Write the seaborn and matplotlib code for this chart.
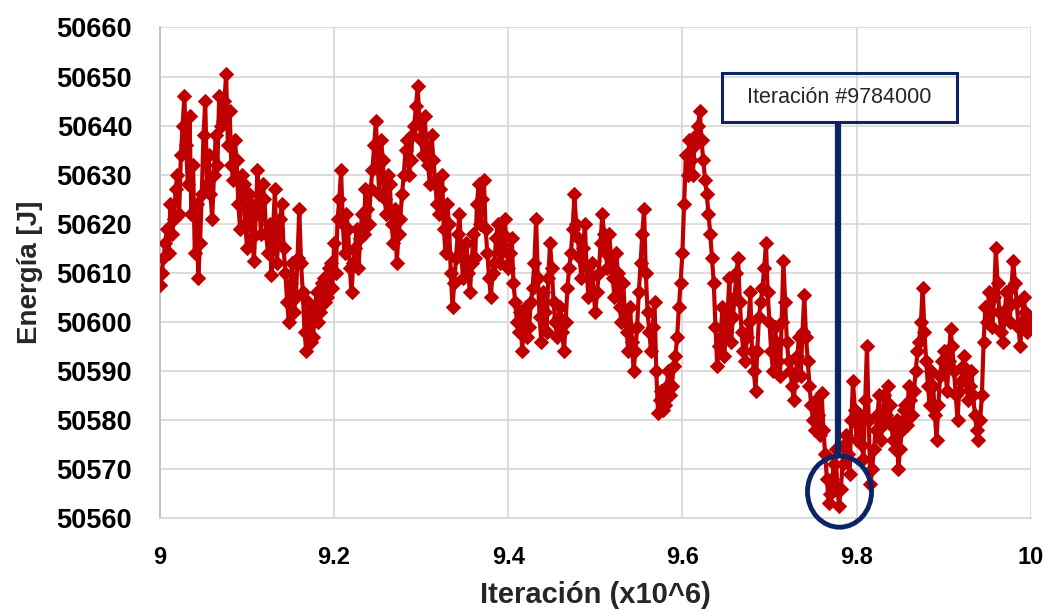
import numpy as np
import pandas as pd
import matplotlib
matplotlib.use("Agg")
import matplotlib.pyplot as plt
from matplotlib.patches import Ellipse, Rectangle
import seaborn as sns

# Energy sampled every 2000 iterations between 9.0e6 and 10.0e6
iteracion = np.arange(9_000_000, 10_000_001, 2000) / 1e6
energia = [
    50607.5, 50610, 50613, 50616, 50619, 50614, 50624, 50618, 50621, 50627,
    50630, 50622, 50634, 50640, 50646, 50636, 50628, 50642, 50622, 50632,
    50614, 50624, 50609, 50616, 50626, 50638, 50645, 50628, 50634, 50626,
    50621, 50630, 50638, 50632, 50646, 50640, 50641, 50645, 50650.5, 50636,
    50643, 50632, 50629, 50637, 50633, 50624, 50619, 50630, 50628, 50620,
    50615, 50626, 50624, 50617, 50612.5, 50622, 50631, 50624, 50618, 50628,
    50625, 50618, 50614, 50620, 50609.5, 50619, 50627, 50612, 50616, 50621,
    50624, 50615, 50610, 50604, 50600, 50608, 50612, 50602, 50605, 50613,
    50623, 50612, 50606, 50598, 50594, 50604, 50601, 50596, 50597, 50603,
    50606, 50600, 50602, 50608, 50609, 50604, 50605, 50611, 50612, 50607,
    50616, 50610, 50621, 50625, 50631, 50620, 50614, 50622, 50619, 50611,
    50606, 50612, 50615, 50619, 50611, 50617, 50622, 50618, 50627, 50623,
    50620, 50627, 50631, 50636, 50641, 50632, 50626, 50637, 50633, 50625,
    50622, 50630, 50628, 50620, 50616, 50623, 50612, 50618, 50621, 50626,
    50630, 50635, 50637, 50630, 50633, 50638, 50640, 50644, 50648, 50641,
    50637, 50634, 50642, 50636, 50632, 50628, 50638, 50633, 50629, 50624,
    50622, 50627, 50630, 50619, 50614, 50624, 50620, 50610, 50603, 50608,
    50613, 50618, 50622, 50614, 50609, 50613, 50616, 50610, 50606, 50612,
    50618, 50613, 50624, 50628, 50620, 50625, 50629, 50619, 50614, 50609,
    50605, 50610, 50612, 50617, 50620, 50612, 50614, 50618, 50621, 50615,
    50611, 50614, 50617, 50608, 50604, 50600, 50598, 50602, 50594, 50599,
    50603, 50597, 50599, 50604, 50607, 50612, 50621, 50609, 50601, 50596,
    50606, 50602, 50598, 50609, 50616, 50611, 50604, 50600, 50597, 50601,
    50603, 50598, 50594, 50600, 50607, 50611, 50614, 50619, 50626, 50620,
    50617, 50613, 50609, 50615, 50620, 50611, 50605, 50609, 50612, 50606,
    50602, 50606, 50610, 50616, 50622, 50618, 50614, 50611, 50618, 50613,
    50609, 50605, 50614, 50610, 50603, 50600, 50608, 50602, 50598, 50594,
    50603, 50596, 50590, 50594, 50599, 50606, 50612, 50618, 50623, 50610,
    50602, 50598, 50594, 50599, 50604, 50590, 50581.5, 50584, 50586, 50582,
    50583, 50587, 50590, 50585, 50587, 50591, 50593, 50597, 50603, 50608,
    50614, 50624, 50634, 50630, 50637, 50633, 50630, 50636, 50638, 50640,
    50643, 50637, 50633, 50629, 50626, 50622, 50618, 50613, 50608, 50599,
    50591, 50595, 50597, 50603, 50593, 50598, 50602, 50609, 50596, 50601,
    50605, 50610, 50613, 50604, 50598, 50594, 50592, 50597, 50600, 50606,
    50594, 50590, 50586, 50594, 50601, 50604, 50607, 50611, 50616, 50606,
    50600, 50594, 50590, 50599, 50596, 50592, 50589, 50600, 50612.5, 50604,
    50596, 50592, 50590, 50587, 50584, 50589, 50593, 50597, 50589, 50598,
    50605.5, 50597, 50592, 50587, 50583, 50580, 50578, 50584, 50581, 50577,
    50585.5, 50578, 50573, 50568, 50563, 50565, 50568, 50571, 50574, 50566,
    50562.5, 50566, 50571, 50575, 50577, 50573, 50569, 50580, 50588, 50582,
    50576, 50579, 50581, 50575, 50572, 50584, 50595, 50580, 50567, 50570,
    50574, 50578, 50581, 50585, 50576, 50579, 50585, 50581, 50587, 50583,
    50579, 50576, 50574, 50580, 50570, 50574, 50578, 50582, 50583, 50579,
    50587, 50584, 50581, 50586, 50590, 50594, 50596, 50600, 50607, 50598,
    50592, 50587, 50583, 50590, 50587, 50581, 50576, 50583, 50589, 50592,
    50594, 50590, 50586, 50592, 50598.5, 50595, 50590, 50585, 50580, 50586,
    50588, 50591, 50593, 50588, 50584, 50587, 50590, 50585, 50581, 50578,
    50576, 50580, 50585, 50596, 50603, 50600, 50606, 50602, 50599, 50605,
    50615, 50608, 50602, 50598, 50596, 50601, 50606, 50603, 50600, 50607,
    50612.5, 50608, 50604, 50599, 50595, 50600, 50605, 50602, 50598, 50601,
    50600,
]
x_ticks = [9.0, 9.2, 9.4, 9.6, 9.8, 10.0]
x_tick_labels = ["9", "9.2", "9.4", "9.6", "9.8", "10"]
y_ticks = list(range(50560, 50661, 10))

# Highlighted iteration
iter_min = 9.784
etiqueta = "Iteración #9784000"

df = pd.DataFrame({"iteracion": iteracion, "energia": energia})

sns.set_theme(style="white")
plt.rcParams["font.family"] = ["Liberation Sans", "DejaVu Sans"]

rojo = "#c00000"
azul = "#0b2466"

fig = plt.figure(figsize=(10.49, 6.11), dpi=100)
ax = fig.add_axes([0.1525, 0.152, 0.830, 0.803])

sns.lineplot(data=df, x="iteracion", y="energia", ax=ax, color=rojo,
             linewidth=3.0, marker="D", markersize=7.5,
             markeredgecolor=rojo, markerfacecolor=rojo, zorder=3)

ax.set_xlim(9.0, 10.0)
ax.set_ylim(50560, 50660)
ax.set_xticks(x_ticks)
ax.set_xticklabels(x_tick_labels)
ax.set_yticks(y_ticks)
ax.set_yticklabels([str(v) for v in y_ticks])
ax.tick_params(axis="x", length=0, labelsize=17, pad=20, labelcolor="black")
ax.tick_params(axis="y", length=0, labelsize=19.5, pad=20, labelcolor="black")
for lab in ax.get_xticklabels() + ax.get_yticklabels():
    lab.set_fontweight("bold")

ax.grid(True, color="#d9d9d9", linewidth=1.3)
ax.set_axisbelow(True)
for side in ("top", "right"):
    ax.spines[side].set_visible(False)
ax.spines["left"].set_color("#bfbfbf")
ax.spines["bottom"].set_color("#d9d9d9")
ax.spines["left"].set_linewidth(1.3)
ax.spines["bottom"].set_linewidth(1.3)

ax.set_xlabel("Iteración (x10^6)", fontsize=21, fontweight="bold",
              color="#262626", labelpad=9)
ax.set_ylabel("Energía [J]", fontsize=20, fontweight="bold",
              color="#262626", labelpad=10)

# Callout box, leader line and circle around the minimum
caja = Rectangle((9.646, 50640.8), 0.269, 9.97, facecolor="none",
                 edgecolor=azul, linewidth=2.2, zorder=5, clip_on=False)
ax.add_patch(caja)
ax.text(9.7805, 50645.8, etiqueta, ha="center", va="center",
        fontsize=15.5, color="#262626", zorder=6)
ax.plot([iter_min - 0.005, iter_min - 0.005], [50640.8, 50572.4],
        color=azul, linewidth=4.5, solid_capstyle="butt", zorder=5)
circulo = Ellipse((9.7805, 50565.4), 0.0736, 14.5, facecolor="none",
                  edgecolor=azul, linewidth=3.5, zorder=5, clip_on=False)
ax.add_patch(circulo)

fig.savefig("out.png", dpi=100)
